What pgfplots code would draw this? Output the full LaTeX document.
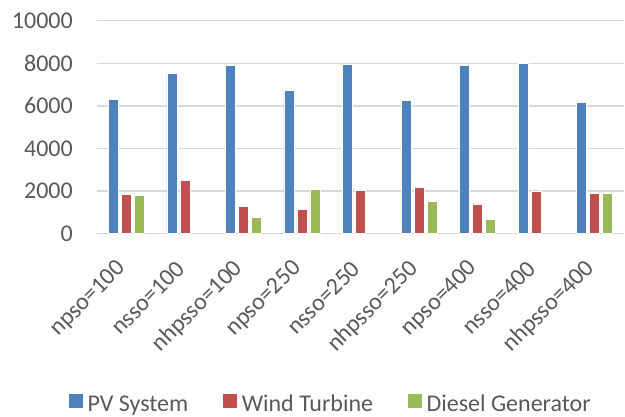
\documentclass[border=0pt]{standalone}
\usepackage{pgfplots}
\pgfplotsset{compat=1.18}
\usepackage{fontspec}
\setmainfont{Carlito}
\definecolor{pvblue}{HTML}{4F81BD}
\definecolor{wtred}{HTML}{C0504D}
\definecolor{dggreen}{HTML}{9BBB59}
\definecolor{gridgray}{HTML}{D9D9D9}
\definecolor{txtgray}{HTML}{595959}
\newcommand{\chartfont}{\fontsize{24}{29}\selectfont}

\begin{document}
\begin{tikzpicture}
\path[use as bounding box] (-97pt,-182.3pt) rectangle (528pt,233.7pt);
\begin{axis}[
    at={(0,0)}, anchor=south west,
    scale only axis,
    width=527pt, height=213pt,
    ybar=3pt, bar width=10pt,
    xmin=-0.5, xmax=8.5,
    ymin=0, ymax=10000,
    xtick={0,...,8},
    xticklabels={npso=100,nsso=100,nhpsso=100,npso=250,nsso=250,nhpsso=250,npso=400,nsso=400,nhpsso=400},
    ytick={0,2000,...,10000},
    scaled y ticks=false,
    ymajorgrids=true,
    grid style={gridgray, line width=1.5pt},
    axis line style={draw=none},
    major tick length=0pt,
    tick label style={font=\chartfont, text=txtgray},
    /pgf/number format/assume math mode=true,
    /pgf/number format/1000 sep={},
    yticklabel style={anchor=east, inner sep=0pt, xshift=-24pt},
    xticklabel shift=27pt,
    xticklabel style={rotate=45, anchor=east, inner sep=0pt, xshift=-6pt},
    legend columns=-1,
    legend style={at={(0.441,-0.795)}, anchor=center, draw=none, fill=none,
        font=\chartfont, text=txtgray, nodes={inner sep=0pt},
        /tikz/every odd column/.append style={column sep=4pt},
        /tikz/every even column/.append style={column sep=34pt}},
    legend image code/.code={\fill[#1] (0pt,-4pt) rectangle (15pt,11pt);},
]

\addplot[fill=pvblue, draw=white, line width=0.5pt] coordinates {
    (0,6320)(1,7510)(2,7920)(3,6745)(4,7950)(5,6245)(6,7905)(7,8000)(8,6150)
};
\addplot[fill=wtred, draw=white, line width=0.5pt] coordinates {
    (0,1830)(1,2490)(2,1300)(3,1140)(4,2035)(5,2175)(6,1395)(7,1990)(8,1910)
};
\addplot[fill=dggreen, draw=white, line width=0.5pt] coordinates {
    (0,1785)(2,767)(3,2080)(5,1535)(6,673)(8,1880)
};
\legend{PV System, Wind Turbine, Diesel Generator}

\end{axis}
\end{tikzpicture}
\end{document}
